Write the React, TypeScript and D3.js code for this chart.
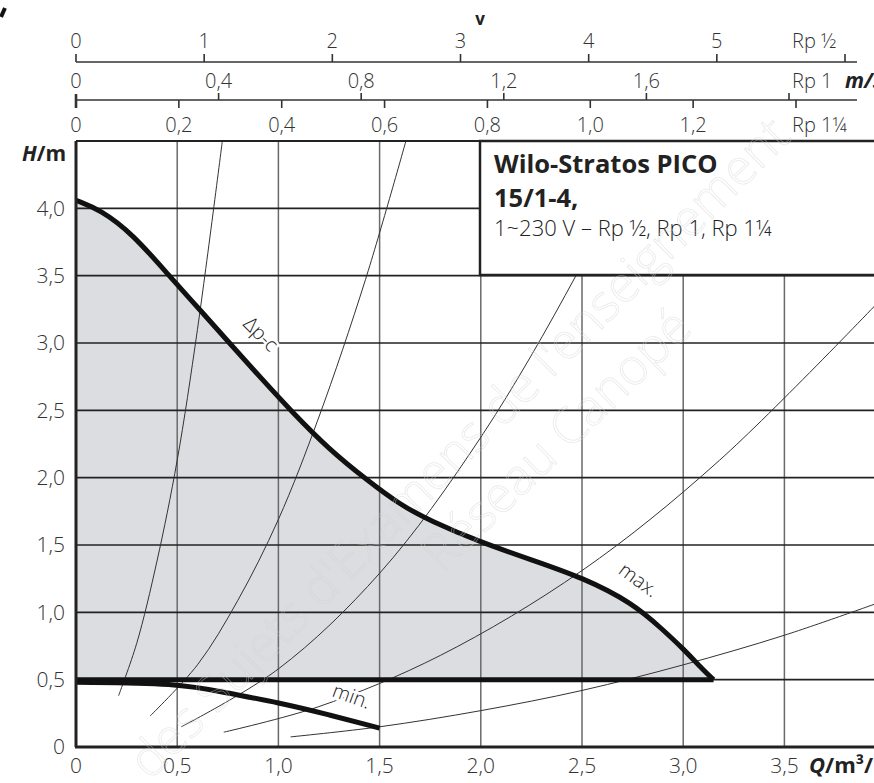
import * as d3 from 'd3';

// pump chart data
const qTicks = [0, 0.5, 1, 1.5, 2, 2.5, 3, 3.5];
const qTickLabels = ['0', '0,5', '1,0', '1,5', '2,0', '2,5', '3,0', '3,5'];
const hTicks = [0, 0.5, 1, 1.5, 2, 2.5, 3, 3.5, 4];
const hTickLabels = ['0', '0,5', '1,0', '1,5', '2,0', '2,5', '3,0', '3,5', '4,0'];

// velocity scales on top
const vTicks = [0, 1, 2, 3, 4, 5, 6];
const vLabels = ['0', '1', '2', '3', '4', '5', ''];
const rp1Ticks = [0, 0.4, 0.8, 1.2, 1.6, 2.0];
const rp1Labels = ['0', '0,4', '0,8', '1,2', '1,6', ''];
const rp114Ticks = [0, 0.2, 0.4, 0.6, 0.8, 1.0, 1.2, 1.4];
const rp114Labels = ['0', '0,2', '0,4', '0,6', '0,8', '1,0', '1,2', ''];

// max curve (delta p-c)
const maxQ = [0, 0.12, 0.28, 0.46, 0.61, 0.77, 0.92, 1.06, 1.25, 1.44, 1.6, 1.75, 2.0, 2.25, 2.5, 2.75, 2.9, 3.0, 3.1, 3.15];
const maxH = [4.06, 3.99, 3.81, 3.5, 3.25, 2.98, 2.73, 2.5, 2.21, 1.98, 1.8, 1.68, 1.52, 1.39, 1.26, 1.07, 0.87, 0.73, 0.57, 0.5];

// min curve
const minQ = [0, 0.5, 0.75, 1.0, 1.25, 1.5];
const minH = [0.48, 0.475, 0.4, 0.33, 0.24, 0.14];

// lower limit of the shaded range
const baseH = 0.5;

// system curves
const sys1Q = [0.21, 0.3, 0.4, 0.5, 0.6, 0.723];
const sys1H = [0.38, 0.77, 1.38, 2.13, 3.1, 4.5];
const sys2Q = [0.366, 0.6, 0.8, 1.0, 1.2, 1.43, 1.63];
const sys2H = [0.23, 0.61, 1.09, 1.69, 2.45, 3.47, 4.5];
const sys3Q = [0.52, 1.0, 1.5, 2.0, 2.47, 2.8];
const sys3H = [0.15, 0.58, 1.29, 2.3, 3.5, 4.5];
const sys4Q = [0.73, 1.2, 1.8, 2.5, 3.18, 4.0];
const sys4H = [0.11, 0.3, 0.68, 1.31, 2.13, 3.36];
const sys5Q = [1.06, 1.5, 2.0, 2.5, 3.0, 3.5, 4.0];
const sys5H = [0.075, 0.15, 0.27, 0.42, 0.61, 0.83, 1.09];

const W = 874;
const H = 783;
const FONT = "'Open Sans', 'Noto Sans', sans-serif";

export default function App() {
  const x = d3.scaleLinear().domain([0, 4]).range([76, 76 + 4 * 202.4]);
  const y = d3.scaleLinear().domain([0, 4.5]).range([747, 141]);

  const vScale = d3.scaleLinear().domain([0, 6]).range([76, 845]);
  const rp1Scale = d3.scaleLinear().domain([0, 2]).range([76, 789]);
  const rp114Scale = d3.scaleLinear().domain([0, 1.4]).range([76, 796]);

  const pts = (qs: number[], hs: number[]) => qs.map((q, i) => [q, hs[i]] as [number, number]);

  const line = d3
    .line<[number, number]>()
    .x(d => x(d[0]))
    .y(d => y(d[1]))
    .curve(d3.curveCatmullRom.alpha(0.5));

  // smoothed line for the pump curves
  const smooth = d3
    .line<[number, number]>()
    .x(d => x(d[0]))
    .y(d => y(d[1]))
    .curve(d3.curveBasis);

  const area = d3
    .area<[number, number]>()
    .x(d => x(d[0]))
    .y0(y(baseH))
    .y1(d => y(d[1]))
    .curve(d3.curveBasis);

  const systems = [
    pts(sys1Q, sys1H),
    pts(sys2Q, sys2H),
    pts(sys3Q, sys3H),
    pts(sys4Q, sys4H),
    pts(sys5Q, sys5H),
  ];

  const left = x(0);
  const top = y(4.5);
  const bottom = y(0);
  const halo = { stroke: '#fff', strokeWidth: 5, paintOrder: 'stroke' as const };

  return (
    <svg
      width={W}
      height={H}
      style={{ position: 'absolute', left: 0, top: 0, background: '#fff' }}
      fontFamily={FONT}
    >
      <defs>
        <clipPath id="plot">
          <rect x={left} y={top} width={W - left} height={bottom - top} />
        </clipPath>
      </defs>

      {/* cropped glyph in the corner */}
      <path d="M5,8 L1,17" stroke="#111" strokeWidth={4} />

      {/* top velocity scales */}
      <g fill="#333" fontSize={20} fontWeight={300} textAnchor="middle">
        <line x1={76} x2={857} y1={62} y2={62} stroke="#333" strokeWidth={1.6} />
        {vTicks.map((t, i) => (
          <g key={'v' + i}>
            <line x1={vScale(t)} x2={vScale(t)} y1={54} y2={62} stroke="#333" strokeWidth={1.6} />
            <text x={vScale(t)} y={48}>{vLabels[i]}</text>
          </g>
        ))}
        <line x1={76} x2={857} y1={100} y2={100} stroke="#333" strokeWidth={1.6} />
        {rp1Ticks.map((t, i) => (
          <g key={'a' + i}>
            <line x1={rp1Scale(t)} x2={rp1Scale(t)} y1={i === 0 ? 94 : 93} y2={100} stroke="#333" strokeWidth={i === 0 ? 2.6 : 1.6} />
            <text x={rp1Scale(t)} y={88}>{rp1Labels[i]}</text>
          </g>
        ))}
        {rp114Ticks.map((t, i) => (
          <g key={'b' + i}>
            <line x1={rp114Scale(t)} x2={rp114Scale(t)} y1={100} y2={108} stroke="#333" strokeWidth={i === 0 ? 2.6 : 1.6} />
            <text x={rp114Scale(t)} y={132}>{rp114Labels[i]}</text>
          </g>
        ))}
        <text x={792} y={48} textAnchor="start">Rp ½</text>
        <text x={792} y={88} textAnchor="start">Rp 1</text>
        <text x={792} y={132} textAnchor="start">Rp 1¼</text>
        <text x={845} y={88} textAnchor="start" fontWeight={700} fontStyle="italic" fill="#222" fontSize={21}>m/s</text>
        <text x={480} y={25} fontWeight={700} fontSize={17} fill="#222">v</text>
      </g>

      <g clipPath="url(#plot)">
        {/* operating range */}
        <path d={area(pts(maxQ, maxH)) || ''} fill="#dcdde0" />

        {/* grid */}
        {qTicks.slice(1).map(t => (
          <line key={'gx' + t} x1={x(t)} x2={x(t)} y1={top} y2={bottom} stroke="#6a6a6a" strokeWidth={1.5} />
        ))}
        {hTicks.slice(1).map(t => (
          <line key={'gy' + t} x1={left} x2={W} y1={y(t)} y2={y(t)} stroke="#222" strokeWidth={1.6} />
        ))}

        {/* system curves */}
        {systems.map((s, i) => (
          <path key={'s' + i} d={line(s) || ''} fill="none" stroke="#333" strokeWidth={1} />
        ))}

        {/* pump curves */}
        <line x1={x(0)} x2={x(maxQ[maxQ.length - 1])} y1={y(baseH)} y2={y(baseH)} stroke="#111" strokeWidth={5} />
        <path d={smooth(pts(minQ, minH)) || ''} fill="none" stroke="#111" strokeWidth={5} />
        <path d={smooth(pts(maxQ, maxH)) || ''} fill="none" stroke="#111" strokeWidth={5} strokeLinejoin="round" />
      </g>

      {/* curve labels */}
      <g fill="#222" fontSize={20} fontWeight={300} textAnchor="middle" style={halo}>
        <text transform={`translate(${x(0.89)},${y(3.03)}) rotate(45)`}>Δp-c</text>
        <text transform={`translate(${x(2.76)},${y(1.2)}) rotate(36)`}>max.</text>
        <text transform={`translate(${x(1.35)},${y(0.33)}) rotate(20)`}>min.</text>
      </g>

      {/* frame */}
      <line x1={left} x2={W} y1={top} y2={top} stroke="#222" strokeWidth={2} />
      <line x1={left} x2={left} y1={top} y2={bottom} stroke="#222" strokeWidth={3} />
      <line x1={left - 1} x2={W} y1={bottom} y2={bottom} stroke="#222" strokeWidth={3} />

      {/* title box */}
      <rect x={480} y={top} width={420} height={134} fill="#fff" stroke="#222" strokeWidth={2.5} />
      <g fill="#222">
        <text x={494} y={173} fontSize={25.5} fontWeight={700}>Wilo-Stratos PICO</text>
        <text x={494} y={207} fontSize={25.5} fontWeight={700}>15/1-4,</text>
        <text x={494} y={236} fontSize={22} fontWeight={300}>1~230 V – Rp ½, Rp 1, Rp 1¼</text>
      </g>

      {/* axes labels */}
      <g fill="#333" fontSize={21} fontWeight={300}>
        {hTicks.map((t, i) => (
          <text key={'hy' + t} x={65} y={y(t)} dy="0.35em" textAnchor="end">{hTickLabels[i]}</text>
        ))}
        {qTicks.map((t, i) => (
          <text key={'qx' + t} x={x(t)} y={773} textAnchor="middle">{qTickLabels[i]}</text>
        ))}
      </g>
      <text x={22} y={161} fontSize={21} fontWeight={700} fill="#222">
        <tspan fontStyle="italic">H</tspan>/m
      </text>
      <text x={809} y={773} fontSize={22} fontWeight={700} fill="#222">
        <tspan fontStyle="italic">Q</tspan>/m³/h
      </text>

      {/* watermark */}
      <g fill="none" stroke="#d2d2d2" strokeWidth={0.8} opacity={0.45} fontSize={50} fontWeight={300}>
        <text transform="translate(150,781) rotate(-45)">des Sujets d'Examens de l'enseignement</text>
        <text transform="translate(442,574) rotate(-44)">Réseau Canopé</text>
      </g>
    </svg>
  );
}
